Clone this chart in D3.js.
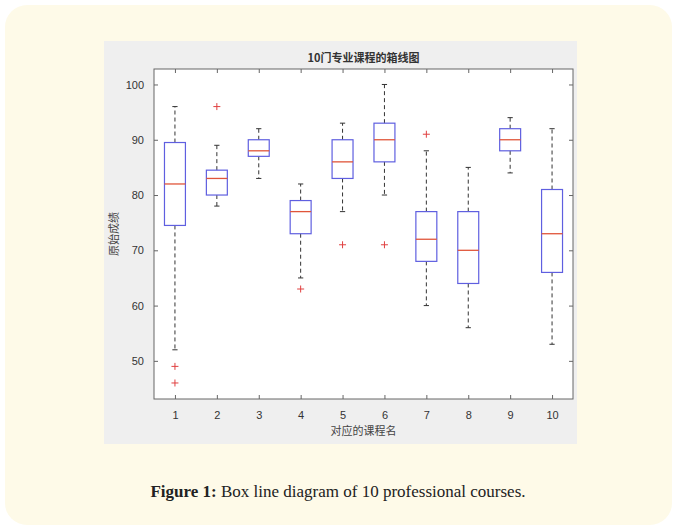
<!DOCTYPE html>
<html><head><meta charset="utf-8">
<script src="https://cdn.jsdelivr.net/npm/d3@7/dist/d3.min.js"></script>
<style>html,body{margin:0;padding:0;background:#fff;}</style>
</head><body><svg id="c" width="677" height="529"></svg>
<script>
const courses = ["1","2","3","4","5","6","7","8","9","10"];
const whiskerLow  = [52, 78, 83, 65, 77, 80, 60, 56, 84, 53];
const q1          = [74.5, 80, 87, 73, 83, 86, 68, 64, 88, 66];
const medians     = [82, 83, 88, 77, 86, 90, 72, 70, 90, 73];
const q3          = [89.5, 84.5, 90, 79, 90, 93, 77, 77, 92, 81];
const whiskerHigh = [96, 89, 92, 82, 93, 100, 88, 85, 94, 92];
const outliers    = [[49, 46], [96], [], [63], [71], [71], [91], [], [], []];
const yTicks = [50, 60, 70, 80, 90, 100];
const titleText = "10门专业课程的箱线图";
const xLabel = "对应的课程名";
const yLabel = "原始成绩";

const svg = d3.select("#c");
svg.append("rect").attr("x",5).attr("y",5).attr("width",667).attr("height",520).attr("rx",22).attr("fill","#fefae8");
svg.append("rect").attr("x",104).attr("y",41).attr("width",473).attr("height",403).attr("fill","#efefef");

const L=154, R=573, T=69, B=399;
const x = d3.scaleLinear().domain([0.5,10.5]).range([L,R]);
const y = d3.scaleLinear().domain([43.1,102.8]).range([B,T]);
svg.append("rect").attr("x",L).attr("y",T).attr("width",R-L).attr("height",B-T).attr("fill","#fff");

const cjk = "'Noto Sans CJK SC', sans-serif";
const g = svg.append("g");
const axStyle = s => s.call(a=>a.select(".domain").remove()).selectAll("line").attr("stroke","#666");
g.append("g").attr("transform",`translate(0,${B})`).call(d3.axisBottom(x).tickValues(d3.range(1,11)).tickFormat((d,i)=>courses[i]).tickSizeInner(-4).tickPadding(12))
  .call(axStyle).call(s=>s.selectAll("text").attr("fill","#333").attr("font-size",11).attr("font-family","Arial, 'Liberation Sans', sans-serif"));
g.append("g").attr("transform",`translate(0,${T})`).call(d3.axisTop(x).tickValues(d3.range(1,11)).tickFormat("").tickSizeInner(-4))
  .call(axStyle);
g.append("g").attr("transform",`translate(${L},0)`).call(d3.axisLeft(y).tickValues(yTicks).tickSizeInner(-4).tickPadding(10))
  .call(axStyle).call(s=>s.selectAll("text").attr("fill","#333").attr("font-size",11).attr("font-family","Arial, 'Liberation Sans', sans-serif"));
g.append("g").attr("transform",`translate(${R},0)`).call(d3.axisRight(y).tickValues(yTicks).tickFormat("").tickSizeInner(-4))
  .call(axStyle);
svg.append("rect").attr("x",L).attr("y",T).attr("width",R-L).attr("height",B-T).attr("fill","none").attr("stroke","#666").attr("stroke-width",1);

const bw = x(1.25)-x(1), cw = x(1.125)-x(1);
courses.forEach((c,i)=>{
  const cx = x(i+1);
  const bg = svg.append("g");
  bg.append("line").attr("x1",cx).attr("x2",cx).attr("y1",y(q3[i])).attr("y2",y(whiskerHigh[i])).attr("stroke","#333").attr("stroke-dasharray","4,3");
  bg.append("line").attr("x1",cx).attr("x2",cx).attr("y1",y(q1[i])).attr("y2",y(whiskerLow[i])).attr("stroke","#333").attr("stroke-dasharray","4,3");
  [whiskerHigh[i], whiskerLow[i]].forEach(v=>bg.append("line").attr("x1",cx-cw/2).attr("x2",cx+cw/2).attr("y1",y(v)).attr("y2",y(v)).attr("stroke","#333"));
  bg.append("rect").attr("x",cx-bw).attr("width",2*bw).attr("y",y(q3[i])).attr("height",y(q1[i])-y(q3[i]))
    .attr("fill","none").attr("stroke","#5f5fe0").attr("stroke-width",1.2);
  bg.append("line").attr("x1",cx-bw).attr("x2",cx+bw).attr("y1",y(medians[i])).attr("y2",y(medians[i])).attr("stroke","#e0553a").attr("stroke-width",1.3);
  outliers[i].forEach(v=>{
    const py=y(v);
    bg.append("line").attr("x1",cx-3.5).attr("x2",cx+3.5).attr("y1",py).attr("y2",py).attr("stroke","#e04040");
    bg.append("line").attr("x1",cx).attr("x2",cx).attr("y1",py-3.5).attr("y2",py+3.5).attr("stroke","#e04040");
  });
});

svg.append("text").attr("x",(L+R)/2).attr("y",62).attr("text-anchor","middle").attr("font-family",cjk).attr("font-size",11).attr("font-weight","bold").attr("fill","#333").text(titleText);
svg.append("text").attr("x",(L+R)/2).attr("y",435).attr("text-anchor","middle").attr("font-family",cjk).attr("font-size",11).attr("fill","#444").text(xLabel);
svg.append("text").attr("transform",`translate(118,${(T+B)/2}) rotate(-90)`).attr("text-anchor","middle").attr("font-family",cjk).attr("font-size",11).attr("fill","#444").text(yLabel);

const cap = svg.append("text").attr("x",338).attr("y",497).attr("text-anchor","middle").attr("font-family","'Liberation Serif', 'DejaVu Serif', serif").attr("font-size",17).attr("fill","#222");
cap.append("tspan").attr("font-weight","bold").text("Figure 1:");
cap.append("tspan").text(" Box line diagram of 10 professional courses.");
</script></body></html>
